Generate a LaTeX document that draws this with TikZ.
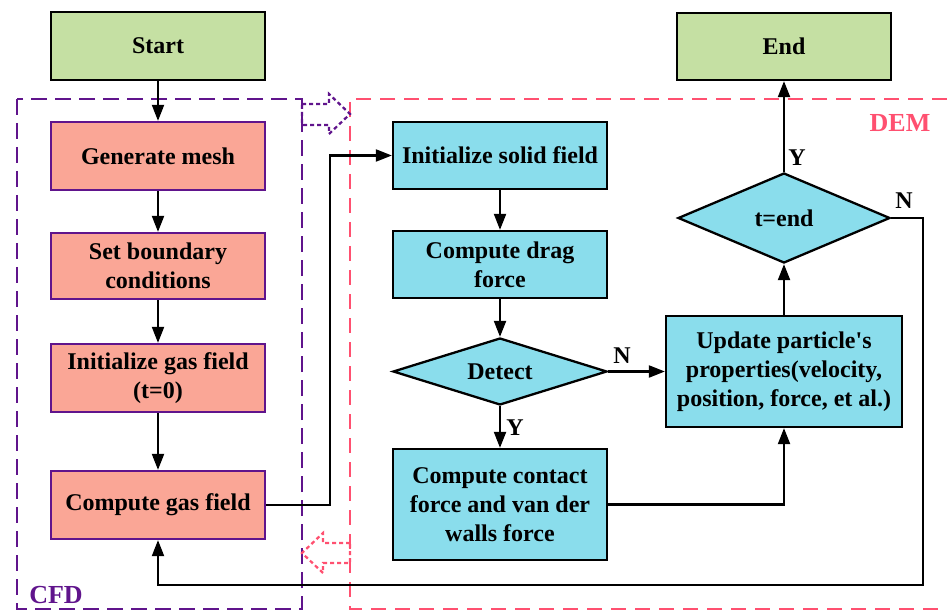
\documentclass[tikz,border=0pt]{standalone}
\usepackage{fontspec}
\setmainfont{Liberation Serif}
\usetikzlibrary{arrows.meta,shapes.geometric}
\definecolor{cfdpurple}{RGB}{96,20,140}
\definecolor{demred}{RGB}{255,80,112}
\definecolor{greenf}{RGB}{197,224,163}
\definecolor{salmonf}{RGB}{250,166,150}
\definecolor{cyanf}{RGB}{138,221,236}
\begin{document}
\begin{tikzpicture}[x=1pt,y=-1pt,
  txt/.style={font=\fontsize{24}{29}\selectfont\bfseries},
  box/.style={txt, draw, line width=2.3pt, inner sep=0pt, align=center, minimum width=214pt},
  termbox/.style={box, fill=greenf, draw=black},
  cfdbox/.style={box, fill=salmonf, draw=cfdpurple},
  dembox/.style={box, fill=cyanf, draw=black},
  decision/.style={txt, diamond, draw=black, fill=cyanf, line width=2.3pt, inner sep=0pt, aspect=2.4},
  conn/.style={line width=2.1pt, -{Triangle[length=16pt,width=12pt]}},
  lbl/.style={txt},
  cfdframe/.style={cfdpurple, line width=2.2pt, dash pattern=on 16pt off 8pt},
  demframe/.style={demred, line width=2.2pt, dash pattern=on 15pt off 9pt},
  hollowarrow/.style={line width=2.2pt, dash pattern=on 4pt off 3pt, line join=miter}
]
\useasboundingbox (0,0) rectangle (947,612);

% frames
\draw[cfdframe] (17,99) rectangle (302,609);
\draw[demframe] (947,99) -- (350,99) -- (350,609) -- (947,609);

% hollow dotted arrows
\draw[hollowarrow, cfdpurple] (302,104) -- (329,104) -- (329,94) -- (350,114) -- (329,134) -- (329,125) -- (302,125) -- cycle;
\draw[hollowarrow, demred] (350,543) -- (323,543) -- (323,533) -- (302,553) -- (323,573) -- (323,563) -- (350,563) -- cycle;

% nodes
\node[termbox, minimum height=68pt] (start) at (158,46) {Start};
\node[termbox, minimum height=67pt] (end) at (784,46.5) {End};

\node[cfdbox, minimum height=68pt] (mesh) at (158,156) {Generate mesh};
\node[cfdbox, minimum height=66pt] (bc) at (158,266) {Set boundary\\conditions};
\node[cfdbox, minimum height=68pt] (initgas) at (158,378) {Initialize gas field\\(t=0)};
\node[cfdbox, minimum height=68pt] (gas) at (158,505) {Compute gas field};

\node[dembox, minimum height=67pt] (solid) at (500,155.5) {Initialize solid field};
\node[dembox, minimum height=67pt] (drag) at (500,264.5) {Compute drag\\force};
\node[decision, minimum width=214pt, minimum height=67pt] (detect) at (500,371.5) {Detect};
\node[dembox, minimum height=111pt] (contact) at (500,504.5) {Compute contact\\force and van der\\walls force};
\node[dembox, minimum width=236pt, minimum height=111pt] (update) at (784,371.5) {Update particle\textquotesingle s\\properties(velocity,\\position, force, et al.)};
\node[decision, minimum width=212pt, minimum height=90pt] (tend) at (784,218) {t=end};

% labels
\node[txt, text=cfdpurple, font=\fontsize{26}{30}\selectfont\bfseries] (cfdlbl) at (56,595) {CFD};
\node[txt, text=demred, font=\fontsize{26}{30}\selectfont\bfseries] (demlbl) at (900,123) {DEM};

% connectors
\draw[conn] (start) -- (mesh);
\draw[conn] (mesh) -- (bc);
\draw[conn] (bc) -- (initgas);
\draw[conn] (initgas) -- (gas);
\draw[conn] (gas.east) -- ++(64,0) |- (solid.west);
\draw[conn] (solid) -- (drag);
\draw[conn] (drag) -- (detect);
\draw[conn] (detect) -- (contact);
\node[lbl] (ylab1) at (515,428) {Y};
\draw[conn] (detect.east) -- (update.west);
\node[lbl] (nlab1) at (622,356) {N};
\draw[conn] (contact.east) -| (update.south);
\draw[conn] (update) -- (tend);
\draw[conn] (tend) -- (end);
\node[lbl] (ylab2) at (797,158) {Y};
\coordinate (loopc) at (923,585);
\draw[conn] (tend.east) -| (loopc) -| (gas.south);
\node[lbl] (nlab2) at (904,201) {N};
\end{tikzpicture}
\end{document}
